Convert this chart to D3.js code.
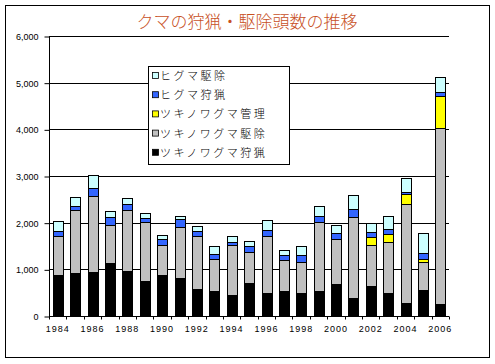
<!DOCTYPE html>
<html><head><meta charset="utf-8">
<script src="https://cdn.jsdelivr.net/npm/d3@7"></script>
<style>body{margin:0;background:#fff}svg{display:block}</style>
</head><body>
<script>
const years = [1984,1985,1986,1987,1988,1989,1990,1991,1992,1993,1994,1995,1996,1997,1998,1999,2000,2001,2002,2003,2004,2005,2006];
const tsukinowaHunt = [886,929,950,1143,971,757,886,821,586,543,457,714,500,543,500,543,693,393,650,500,286,564,264];
const tsukinowaCull = [821,1335,1621,807,1293,1250,635,1086,1128,678,1057,657,1214,657,657,1464,957,1728,871,1086,2114,593,3758];
const tsukinowaMgmt = [0,0,0,0,0,0,0,0,0,0,0,0,0,0,0,0,0,0,165,164,207,64,692];
const higumaHunt = [114,93,165,171,136,93,122,164,107,108,72,129,122,107,150,129,136,172,114,121,50,129,86];
const higumaCull = [215,193,285,129,129,107,93,72,108,171,128,107,221,107,193,221,164,300,186,272,300,429,329];
const seriesNames = ["ツキノワグマ狩猟","ツキノワグマ駆除","ツキノワグマ管理","ヒグマ狩猟","ヒグマ駆除"];
const seriesColors = ["#000000","#C0C0C0","#FFFF00","#3366FF","#CCFFFF"];
const yTicks = [0,1000,2000,3000,4000,5000,6000];
const titleText = "クマの狩猟・駆除頭数の推移";

(function(){
const W = 495, H = 364;
const svg = d3.select("body").append("svg").attr("width", W).attr("height", H);
svg.append("rect").attr("x",5.5).attr("y",5.5).attr("width",484).attr("height",352)
  .attr("fill","#fff").attr("stroke","#000").attr("stroke-width",1);

svg.append("text").attr("x",247).attr("y",28).attr("text-anchor","middle")
  .attr("font-family","'Noto Sans CJK JP'").attr("font-weight",300).attr("font-size",17).attr("fill","#C8501E")
  .text(titleText);

const pL = 49, pR = 449, pT = 36, pB = 316;
const x = d3.scaleBand().domain(years).range([pL, pR]).paddingInner(0.44).paddingOuter(0.22);
const y = d3.scaleLinear().domain([0,6000]).range([pB, pT]);

svg.append("g").selectAll("line").data(yTicks.slice(1)).join("line")
  .attr("x1",pL).attr("x2",pR).attr("y1",d=>Math.round(y(d))+0.5).attr("y2",d=>Math.round(y(d))+0.5)
  .attr("stroke","#000").attr("stroke-width",1);

const table = years.map((yr,i)=>({year:yr, s0:tsukinowaHunt[i], s1:tsukinowaCull[i], s2:tsukinowaMgmt[i], s3:higumaHunt[i], s4:higumaCull[i]}));
const stack = d3.stack().keys(["s0","s1","s2","s3","s4"])(table);
svg.append("g").selectAll("g").data(stack).join("g")
  .attr("fill",(d,i)=>seriesColors[i])
  .selectAll("rect").data(d=>d.filter(p=>p[1]-p[0]>0)).join("rect")
  .attr("x",d=>Math.round(x(d.data.year))+0.5)
  .attr("width",Math.round(x.bandwidth()))
  .attr("y",d=>Math.round(y(d[1]))+0.5)
  .attr("height",d=>Math.round(y(d[0]))-Math.round(y(d[1])))
  .attr("stroke","#000").attr("stroke-width",1);

const yAxis = d3.axisLeft(y).tickValues(yTicks).tickSize(5).tickPadding(6).tickFormat(d3.format(","));
const ya = svg.append("g").attr("transform",`translate(${pL+0.5},0.5)`).call(yAxis);
ya.select(".domain").attr("d",`M0,${pT}V${pB}`);
ya.selectAll("text").attr("font-family","Arial, 'Liberation Sans'").attr("font-size",9).attr("fill","#000");

const xa = svg.append("g").attr("transform",`translate(0,${pB+0.5})`);
xa.append("line").attr("x1",pL).attr("x2",pR).attr("stroke","#000");
xa.selectAll("line.t").data(d3.range(years.length+1)).join("line").attr("class","t")
  .attr("x1",i=>Math.round(pL + i*(pR-pL)/years.length)+0.5)
  .attr("x2",i=>Math.round(pL + i*(pR-pL)/years.length)+0.5)
  .attr("y1",0).attr("y2",3).attr("stroke","#000");
xa.selectAll("text").data(years.filter((d,i)=>i%2===0)).join("text")
  .attr("x",d=>x(d)+x.bandwidth()/2).attr("y",15).attr("text-anchor","middle")
  .attr("font-family","Arial, 'Liberation Sans'").attr("font-size",9).attr("letter-spacing",1)
  .text(d=>d);

const lg = svg.append("g");
lg.append("rect").attr("x",148.5).attr("y",66.5).attr("width",141).attr("height",98)
  .attr("fill","#fff").attr("stroke","#000");
const order = [4,3,2,1,0];
order.forEach((si,k)=>{
  const cy = 76 + k*19.2;
  lg.append("rect").attr("x",152.5).attr("y",cy-3.5).attr("width",6).attr("height",6)
    .attr("fill",seriesColors[si]).attr("stroke","#000").attr("stroke-width",0.8);
  lg.append("text").attr("x",160).attr("y",cy+4).attr("font-family","'Noto Sans CJK JP'")
    .attr("font-weight",300).attr("font-size",11).attr("letter-spacing",2.5).attr("fill","#000").text(seriesNames[si]);
});
})();
</script>
</body></html>
